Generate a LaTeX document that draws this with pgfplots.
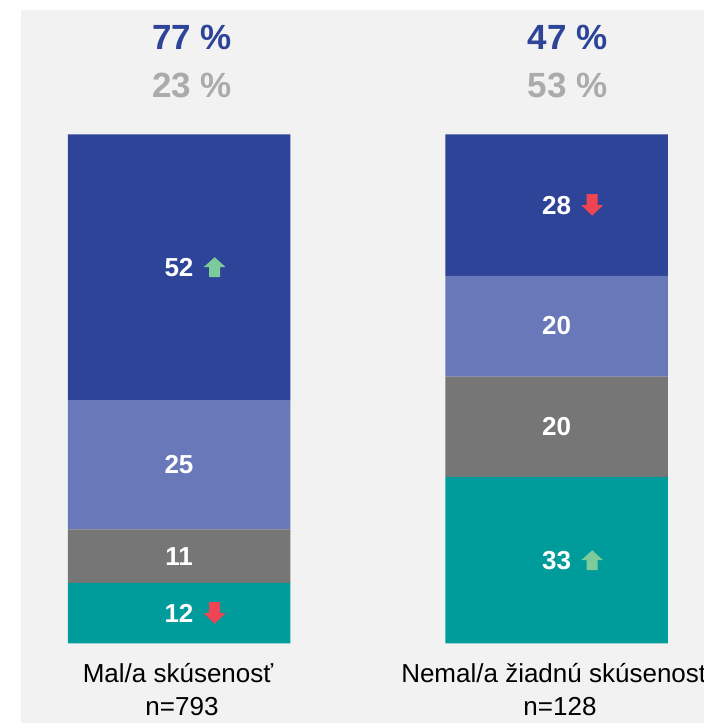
\documentclass[border=0pt]{standalone}
\usepackage{fontspec}
\setmainfont{Liberation Sans}
\usepackage{pgfplots}
\pgfplotsset{compat=1.18}
\definecolor{bgc}{HTML}{F2F2F2}
\definecolor{cdark}{HTML}{2E4499}
\definecolor{clight}{HTML}{6878B8}
\definecolor{cgray}{HTML}{767676}
\definecolor{cteal}{HTML}{009B9B}
\definecolor{pctgray}{HTML}{ABABAB}
\definecolor{arrgreen}{HTML}{7DCB9B}
\definecolor{arrred}{HTML}{EF4452}
\newcommand\seglabfont{\bfseries\fontsize{26}{26}\selectfont}
\tikzset{seglab/.style={font=\seglabfont, text=white, inner sep=0pt, anchor=center}}
\begin{document}
\begin{tikzpicture}[x=1pt,y=1pt]
\useasboundingbox (0,0) rectangle (704,723);
\clip (0,0) rectangle (704,723);
\fill[bgc] (21,0) rectangle (704,713);
\begin{axis}[at={(28pt,79.5pt)}, anchor=south west, scale only axis,
  width=679.5pt, height=509.2pt, xmin=-0.4, xmax=1.4, ymin=0, ymax=100,
  ybar stacked, bar width=222.5pt, axis lines=none, ticks=none, clip=false]
\addplot[fill=cteal, draw=none] coordinates {(0,11.9) (1,32.7)};
\addplot[fill=cgray, draw=none] coordinates {(0,10.5) (1,19.7)};
\addplot[fill=clight, draw=none] coordinates {(0,25.4) (1,19.8)};
\addplot[fill=cdark, draw=none] coordinates {(0,52.2) (1,27.8)};
\coordinate (pa1) at (axis cs:0,5.95);
\coordinate (pa2) at (axis cs:0,17.15);
\coordinate (pa3) at (axis cs:0,35.1);
\coordinate (pa4) at (axis cs:0,73.9);
\coordinate (pb1) at (axis cs:1,16.35);
\coordinate (pb2) at (axis cs:1,42.55);
\coordinate (pb3) at (axis cs:1,62.35);
\coordinate (pb4) at (axis cs:1,86.1);
\end{axis}
\node[seglab] (a1) at (pa1) {12};
\node[seglab] (a2) at (pa2) {11};
\node[seglab] (a3) at (pa3) {25};
\node[seglab] (a4) at (pa4) {52};
\node[seglab] (b1) at (pb1) {33};
\node[seglab] (b2) at (pb2) {20};
\node[seglab] (b3) at (pb3) {20};
\node[seglab] (b4) at (pb4) {28};
% trend arrows
\fill[arrgreen, shift={(a4.east)}, xshift=10pt] (5.5,-10) -- (16.5,-10) -- (16.5,0) -- (22,0) -- (11,10) -- (0,0) -- (5.5,0) -- cycle;
\fill[arrgreen, shift={(b1.east)}, xshift=10pt] (5.5,-10) -- (16.5,-10) -- (16.5,0) -- (22,0) -- (11,10) -- (0,0) -- (5.5,0) -- cycle;
\fill[arrred, shift={(a1.east)}, xshift=10pt] (5.5,11) -- (16.5,11) -- (16.5,0) -- (22,0) -- (11,-10.5) -- (0,0) -- (5.5,0) -- cycle;
\fill[arrred, shift={(b4.east)}, xshift=10pt] (5.5,11) -- (16.5,11) -- (16.5,0) -- (22,0) -- (11,-10.5) -- (0,0) -- (5.5,0) -- cycle;
% percentages
\node[anchor=base, inner sep=0pt, font=\bfseries\fontsize{35}{35}\selectfont, text=cdark] at (192,673) {77 \%};
\node[anchor=base, inner sep=0pt, font=\bfseries\fontsize{35}{35}\selectfont, text=pctgray] at (192,625) {23 \%};
\node[anchor=base, inner sep=0pt, font=\bfseries\fontsize{35}{35}\selectfont, text=cdark] at (567.5,673) {47 \%};
\node[anchor=base, inner sep=0pt, font=\bfseries\fontsize{35}{35}\selectfont, text=pctgray] at (567.5,625) {53 \%};
% category labels
\node[anchor=base, inner sep=0pt, font=\fontsize{26}{26}\selectfont] at (178,40) {Mal/a skúsenosť};
\node[anchor=base, inner sep=0pt, font=\fontsize{26}{26}\selectfont] at (182,8) {n=793};
\node[anchor=base, inner sep=0pt, font=\fontsize{26}{26}\selectfont] at (555,40) {Nemal/a žiadnú skúsenosť};
\node[anchor=base, inner sep=0pt, font=\fontsize{26}{26}\selectfont] at (560,8) {n=128};
\end{tikzpicture}
\end{document}
